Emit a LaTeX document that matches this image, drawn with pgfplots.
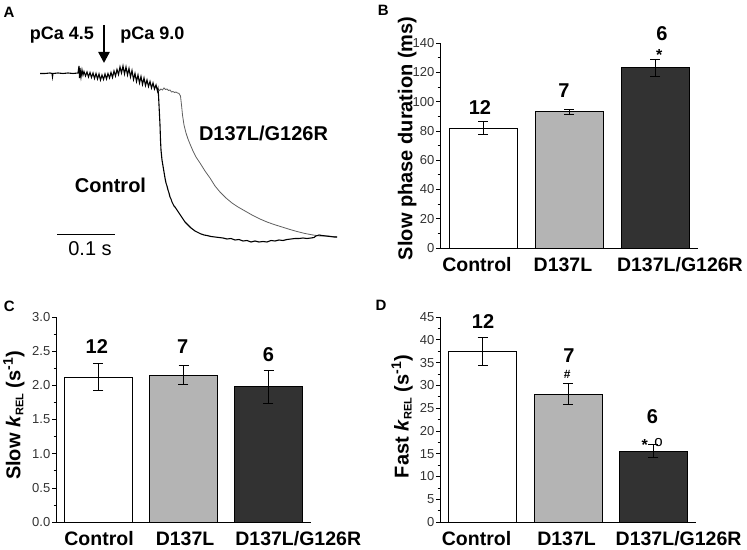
\documentclass[border=0pt]{standalone}
\usepackage{fontspec}
\setmainfont{Liberation Sans}
\usepackage{pgfplots}
\pgfplotsset{compat=1.18}
\usetikzlibrary{arrows.meta}
\definecolor{barlight}{RGB}{180,180,180}
\definecolor{bardark}{RGB}{50,50,50}
\definecolor{tracegray}{RGB}{95,95,95}
\newcommand{\fs}[1]{\fontsize{#1}{#1}\selectfont}
\tikzset{nlab/.style={font=\bfseries\fs{20}}}
\pgfplotsset{
 barpanel/.style={
  scale only axis, anchor=south west, xmin=0, xmax=3, ymin=0,
  axis lines=left, axis line style={-, line width=0.8pt},
  tick align=outside, xtick style={draw=none},
  ytick style={line width=0.6pt, black}, major tick length=4pt, minor tick length=2.5pt,
  minor y tick num=1,
  /pgf/number format/assume math mode=true,
  yticklabel style={font=\fs{13}, color=black!80, inner sep=1.5pt},
  xticklabel style={font=\bfseries\fs{19.5}, anchor=north, inner sep=0pt, yshift=-5.5pt},
  xticklabels={Control,D137L,D137L/G126R},
  ylabel style={font=\bfseries\fs{20}, anchor=center},
  clip=false,
 },
 bars/.style={ybar, bar shift=0pt, bar width=68pt, draw=black, line width=0.8pt,
  error bars/y dir=both, error bars/y explicit,
  error bars/error bar style={line width=0.8pt, black, solid},
  error bars/error mark options={rotate=90, mark size=5pt, line width=0.8pt, black}},
}
\begin{document}
\begin{tikzpicture}
\useasboundingbox (0pt,0pt) rectangle (747pt,549pt);
% ---------------- Panel A ----------------
\begin{axis}[at={(0pt,274pt)}, anchor=south west, scale only axis, width=373pt, height=275pt,
  xmin=0, xmax=373, ymin=-275, ymax=0, hide axis, clip=false]
% D137L/G126R (gray)
\addplot[tracegray, line width=0.8pt] coordinates {
(158,-89) (159.5,-90.5) (161,-89) (162.5,-90) (164,-88) (165.5,-89.5) (167,-89) (168.5,-90.5)
(170,-90) (171.5,-92) (173,-91.5) (174.5,-92.5) (176,-92) (177.5,-93) (179,-93.5) (180.5,-96)
(181.5,-105) (182.5,-115) (184,-125) (186,-133) (188,-139) (190,-144) (193,-151) (196,-157)
(200,-163) (205,-171) (210,-178) (215,-186) (220,-192) (226,-198) (232,-203) (238,-207)
(245,-211) (252,-215) (260,-219) (267,-222) (274,-224.5) (282,-227) (290,-229.5) (297,-231.5)
(305,-233.5) (313,-235) (320,-236) (328,-236) (337,-237)};
% Control (black), including the common start
\addplot[black, line width=1.1pt] coordinates {
(40,-73.5) (45,-73.5) (50,-73) (52,-73.5) (52.5,-77) (53,-73.5) (58,-73) (63,-73.5) (68,-73) (73,-73.5) (78,-73)
(79,-66) (79.5,-78) (80,-68) (81,-77) (82,-70) (83,-75)
(84,-71.5) (85.5,-76) (87,-72) (88.5,-77) (90,-72.5) (91.5,-77.5) (93,-73) (94.5,-78.5)
(96,-73.5) (97.5,-79) (99,-74) (100.5,-80) (102,-75) (103.5,-79.5) (105,-74) (106.5,-79)
(108,-73.5) (109.5,-78) (111,-72.5) (112.5,-77.5) (114,-71) (115.5,-76) (117,-69.5) (118.5,-74.5)
(120,-67) (121.5,-73) (123,-66) (124.5,-74) (126,-67) (127.5,-75) (129,-68.5) (130.5,-77)
(132,-70.5) (133.5,-79.5) (135,-73.5) (136.5,-81.5) (138,-75) (139.5,-83) (141,-76.5) (142.5,-84.5)
(144,-78) (145.5,-85.5) (147,-80) (148.5,-86.5) (150,-81.5) (151.5,-88) (153,-83) (154.5,-89)
(156,-85) (157.5,-91) (158,-89)
(158.5,-95) (159,-105) (160,-125) (160.5,-140) (161,-150) (162,-160) (163,-166) (164,-172)
(165,-178) (166,-183) (167,-186) (168,-190) (169,-193) (170,-197) (171,-199) (172,-202)
(173,-204) (174,-206) (175,-207) (177,-210) (179,-213) (181,-216) (183,-219) (185,-222)
(187,-224) (189,-226) (191,-228) (193,-229.5) (195,-231) (198,-232.5) (201,-234) (204,-235)
(207,-235.5) (211,-236.5) (215,-237) (219,-237.5) (223,-238) (227,-239) (231,-238.5) (235,-240)
(239,-239.5) (243,-241) (247,-240.5) (251,-242) (255,-241) (259,-242) (263,-241.5) (267,-242)
(271,-240.5) (275,-241) (279,-240) (283,-240.5) (287,-239.5) (291,-239) (295,-238.5) (299,-238.5)
(303,-238) (307,-238.5) (311,-238) (314,-237.5) (316,-236) (319,-235) (322,-235.5) (326,-236)
(330,-236.5) (334,-237) (337,-237)};
% scale bar
\addplot[black, line width=1pt] coordinates {(57,-235) (115,-235)};
\node[font=\fs{20}] at (axis cs:90,-249) {0.1 s};
\node[font=\bfseries\fs{18}] at (axis cs:62,-35) {pCa 4.5};
\node[font=\bfseries\fs{18}] at (axis cs:152.5,-35) {pCa 9.0};
\draw[line width=2.5pt, -{Triangle[length=11pt,width=11pt]}] (axis cs:104,-25) -- (axis cs:104,-63);
\node[font=\bfseries\fs{20}] at (axis cs:263.5,-133.5) {D137L/G126R};
\node[font=\bfseries\fs{20}] at (axis cs:110.5,-185.5) {Control};
\node[font=\bfseries\fs{15}] at (axis cs:9,-12) {A};
\end{axis}
% ---------------- Panel B ----------------
\begin{axis}[barpanel, at={(440pt,301pt)}, width=258pt, height=205pt, ymax=140,
  ytick={0,20,...,140}, xtick={0.43,1.43,2.79},
  ylabel={Slow phase duration (ms)}, ylabel style={at={(axis description cs:-0.127,0.535)}}]
\addplot[bars, fill=white] coordinates {(0.5,82) +- (0,4.5)};
\addplot[bars, fill=barlight] coordinates {(1.5,93) +- (0,1.5)};
\addplot[bars, fill=bardark] coordinates {(2.5,123) +- (0,6)};
\node[nlab] at (axis cs:0.465,95.6) {12};
\node[nlab] at (axis cs:1.44,107.5) {7};
\node[nlab] at (axis cs:2.58,146.5) {6};
\node[font=\bfseries\fs{16}] at (axis cs:2.55,132) {*};
\node[font=\bfseries\fs{15}] at (axis cs:-0.66,162) {B};
\end{axis}
% ---------------- Panel C ----------------
\begin{axis}[barpanel, at={(56pt,27pt)}, width=255pt, height=205pt, ymax=3,
  ytick={0,0.5,...,3}, minor y tick num=1, xtick={0.506,1.518,2.85},
  yticklabel style={/pgf/number format/.cd, fixed, fixed zerofill, precision=1},
  ylabel={Slow \textit{k}{\fs{11}\raisebox{-3pt}{REL}} (s\textsuperscript{-1})},
  ylabel style={at={(axis description cs:-0.165,0.52)}}]
\addplot[bars, fill=white] coordinates {(0.5,2.12) +- (0,0.195)};
\addplot[bars, fill=barlight] coordinates {(1.5,2.15) +- (0,0.135)};
\addplot[bars, fill=bardark] coordinates {(2.5,1.98) +- (0,0.24)};
\node[nlab] at (axis cs:0.48,2.57) {12};
\node[nlab] at (axis cs:1.49,2.57) {7};
\node[nlab] at (axis cs:2.50,2.45) {6};
\node[font=\bfseries\fs{15}] at (axis cs:-0.55,3.16) {C};
\end{axis}
% ---------------- Panel D ----------------
\begin{axis}[barpanel, at={(440pt,27pt)}, width=256pt, height=205pt, ymax=45,
  ytick={0,5,...,45}, xtick={0.428,1.483,2.796},
  ylabel={Fast \textit{k}{\fs{11}\raisebox{-3pt}{REL}} (s\textsuperscript{-1})},
  ylabel style={at={(axis description cs:-0.148,0.515)}}]
\addplot[bars, fill=white] coordinates {(0.5,37.5) +- (0,3.1)};
\addplot[bars, fill=barlight] coordinates {(1.5,28.1) +- (0,2.3)};
\addplot[bars, fill=bardark] coordinates {(2.5,15.6) +- (0,1.45)};
\node[nlab] at (axis cs:0.504,44.0) {12};
\node[nlab] at (axis cs:1.51,36.6) {7};
\node[font=\bfseries\fs{12}] at (axis cs:1.49,32.3) {\#};
\node[nlab] at (axis cs:2.49,23.1) {6};
\node[font=\bfseries\fs{16}] at (axis cs:2.40,17.0) {*};
\node[font=\fs{15}] at (axis cs:2.56,17.4) {o};
\node[font=\bfseries\fs{15}] at (axis cs:-0.69,47.5) {D};
\end{axis}
\end{tikzpicture}
\end{document}
